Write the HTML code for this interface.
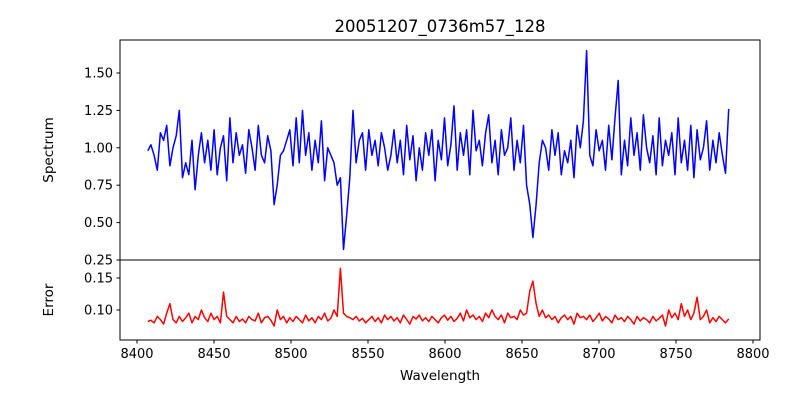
<!DOCTYPE html>
<html><head><meta charset="utf-8"><style>
body{margin:0;background:#fff;}
svg text{font-family:"DejaVu Sans","Liberation Sans",sans-serif;fill:#000;}
</style></head><body>
<svg id="chart" width="800" height="400" xmlns="http://www.w3.org/2000/svg">
<rect width="800" height="400" fill="#fff"/>
<text x="440" y="32" font-size="16.5" text-anchor="middle">20051207_0736m57_128</text>
<g id="topg"></g><g id="botg"></g><g id="xaxis"></g>
<text x="440" y="380" font-size="13.5" text-anchor="middle">Wavelength</text>
<text transform="translate(53,150) rotate(-90)" font-size="13.5" text-anchor="middle">Spectrum</text>
<text transform="translate(53,300) rotate(-90)" font-size="13.5" text-anchor="middle">Error</text>
</svg>
<script>
const wlStart = 8407, wlStep = 2.05;
const spectrum = [0.98,1.02,0.95,0.85,1.1,1.05,1.15,0.88,1.0,1.08,
1.25,0.8,0.9,0.82,1.05,0.72,0.95,1.1,0.9,1.05,
0.85,1.12,0.82,1.0,1.08,0.78,1.2,0.9,1.1,0.95,
1.02,0.83,1.12,1.0,0.85,1.15,0.95,0.9,1.08,0.98,
0.62,0.75,0.95,0.98,1.05,1.12,0.88,1.2,0.9,1.25,
0.95,1.1,0.85,1.05,0.9,1.18,0.78,1.0,0.95,0.9,
0.75,0.8,0.32,0.55,0.8,1.25,0.9,1.05,1.1,0.85,
1.12,0.95,1.05,0.88,1.1,1.0,0.85,0.95,1.12,0.9,
1.05,0.82,1.15,0.92,1.08,0.78,1.0,0.85,1.1,0.95,
1.12,0.78,1.05,0.92,1.2,0.88,1.02,1.28,0.85,1.1,
0.95,1.12,0.82,1.25,0.98,1.05,0.88,1.1,1.22,0.9,
1.05,0.82,1.12,0.95,1.0,1.2,0.85,1.05,0.9,1.15,
0.75,0.62,0.4,0.62,0.9,1.05,1.0,0.85,1.12,0.95,
1.1,0.82,0.98,0.9,1.05,0.8,1.15,1.0,1.18,1.65,
0.95,0.88,1.12,0.98,1.05,0.85,1.15,0.92,1.2,1.45,
0.82,1.05,0.88,1.2,0.95,1.1,0.85,1.22,1.0,0.9,
1.08,0.82,1.2,0.88,1.05,0.95,1.1,0.82,1.2,0.9,
1.05,0.85,1.15,0.8,1.12,0.92,1.0,1.18,0.85,1.05,
0.9,1.1,0.95,0.83,1.26];
const errors = [0.082,0.084,0.08,0.09,0.085,0.078,0.095,0.11,0.085,0.08,
0.09,0.082,0.088,0.095,0.08,0.09,0.085,0.1,0.088,0.082,
0.095,0.085,0.09,0.08,0.128,0.09,0.085,0.08,0.09,0.082,
0.086,0.08,0.09,0.085,0.083,0.095,0.08,0.088,0.09,0.084,
0.075,0.1,0.085,0.09,0.08,0.088,0.082,0.09,0.085,0.08,
0.092,0.083,0.088,0.08,0.09,0.085,0.095,0.083,0.087,0.1,
0.09,0.165,0.095,0.09,0.088,0.085,0.09,0.083,0.087,0.08,
0.085,0.09,0.082,0.088,0.08,0.092,0.085,0.09,0.083,0.088,
0.08,0.092,0.085,0.078,0.09,0.086,0.092,0.083,0.088,0.082,
0.09,0.085,0.08,0.088,0.092,0.084,0.09,0.082,0.087,0.095,
0.083,0.1,0.088,0.092,0.085,0.09,0.082,0.095,0.088,0.1,
0.09,0.085,0.092,0.08,0.095,0.088,0.09,0.085,0.1,0.092,
0.095,0.13,0.145,0.11,0.09,0.1,0.088,0.092,0.085,0.09,
0.08,0.088,0.092,0.085,0.09,0.078,0.095,0.088,0.09,0.085,
0.092,0.082,0.088,0.095,0.083,0.09,0.086,0.08,0.092,0.085,
0.088,0.082,0.09,0.085,0.078,0.09,0.083,0.088,0.085,0.08,
0.09,0.083,0.087,0.092,0.075,0.1,0.088,0.095,0.085,0.11,
0.09,0.1,0.085,0.095,0.12,0.085,0.09,0.1,0.08,0.088,
0.082,0.09,0.085,0.08,0.086];
const xTicks = [8400,8450,8500,8550,8600,8650,8700,8750,8800];
const specTicks = [0.25,0.50,0.75,1.00,1.25,1.50];
const errTicks = [0.10,0.15];
const NS='http://www.w3.org/2000/svg';
const L=120,R=760,T1=40,B1=260,T2=260,B2=340;
const xs=v=>137+(v-8400)*1.54;
const ys=v=>260-(v-0.25)*149.6;
const ye=v=>310-(v-0.10)*640;
function mk(tag,attrs,parent){const e=document.createElementNS(NS,tag);for(const k in attrs)e.setAttribute(k,attrs[k]);parent.appendChild(e);return e;}
const gTop=document.getElementById('topg'),gBot=document.getElementById('botg'),xa=document.getElementById('xaxis');
let d=spectrum.map((v,i)=>(i?'L':'M')+xs(wlStart+i*wlStep).toFixed(1)+','+ys(v).toFixed(1)).join('');
const p1=mk('path',{d:d,fill:'none',stroke:'#0000ff','stroke-width':1.5,'stroke-linejoin':'round'},gTop);


d=errors.map((v,i)=>(i?'L':'M')+xs(wlStart+i*wlStep).toFixed(1)+','+ye(v).toFixed(1)).join('');
const p2=mk('path',{d:d,fill:'none',stroke:'#ff0000','stroke-width':1.5,'stroke-linejoin':'round'},gBot);


const f1=mk('rect',{x:L,y:T1,width:R-L,height:B1-T1,fill:'none',stroke:'#000','stroke-width':1},gTop);


const f2=mk('rect',{x:L,y:T2,width:R-L,height:B2-T2,fill:'none',stroke:'#000','stroke-width':1},gBot);


specTicks.forEach(v=>{const y=ys(v);mk('line',{x1:L-3.5,x2:L,y1:y,y2:y,stroke:'#000'},gTop);
const t=mk('text',{x:L-7,y:y+4.5,'font-size':13,'text-anchor':'end'},gTop);t.textContent=v.toFixed(2);

});
errTicks.forEach(v=>{const y=ye(v);mk('line',{x1:L-3.5,x2:L,y1:y,y2:y,stroke:'#000'},gBot);
const t=mk('text',{x:L-7,y:y+4.5,'font-size':13,'text-anchor':'end'},gBot);t.textContent=v.toFixed(2);

});
xTicks.forEach(v=>{const x=xs(v);mk('line',{x1:x,x2:x,y1:B2,y2:B2+3.5,stroke:'#000'},xa);
const t=mk('text',{x:x,y:B2+18,'font-size':13,'text-anchor':'middle'},xa);t.textContent=v;

});
</script>
</body></html>
